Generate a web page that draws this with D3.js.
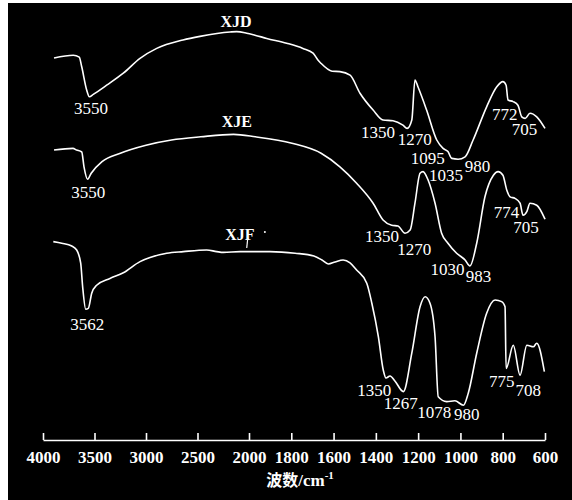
<!DOCTYPE html>
<html><head><meta charset="utf-8">
<script src="https://cdn.jsdelivr.net/npm/d3@7"></script>
<style>html,body{margin:0;padding:0;background:#fff;}svg{display:block;}</style>
</head><body>
<script>
// wavenumber (cm-1), transmittance (arbitrary units)
const xjdWn = [3893,3706,3648,3624,3576,3550,3512,3382,3220,3058,2896,2641,2476,2184,2120,2022,1972,1916,1822,1745,1697,1674,1660,1607,1570,1522,1475,1413,1366,1319,1272,1252,1230,1215,1201,1160,1112,1082,1059,1041,1011,978,940,876,828,799,784,775,751,728,710,694,671,639,600];
const xjdT  = [95.5,96.2,95.7,93.3,87.5,85.8,86.4,88.7,91.7,95.4,97.9,100,100.9,102,102.1,101.7,101.2,100.4,99.2,97.9,96.7,95,94.2,92.2,92.1,91.2,86.7,82.5,80,79.8,78.7,77.9,80,90,88.3,82.5,75,72.9,72.1,70.4,70.2,70.8,75,83.3,88.3,89.6,88.7,85,84.6,83.7,80.8,80.4,81.7,80.8,77.9];

const xjeWn = [3893,3709,3674,3624,3602,3567,3532,3427,3249,3000,2752,2469,2150,1970,1797,1659,1570,1491,1413,1366,1325,1295,1262,1238,1215,1191,1177,1153,1120,1089,1059,1018,978,955,923,884,844,822,799,781,765,742,718,704,686,671,639,600];
const xjeT  = [72.5,72.9,72.5,72,68.3,65.2,66.7,69.6,71.7,73.7,75,75.8,76.4,75.8,74.2,71.7,68.3,64.2,59.2,55,53.7,53.5,51.7,52.5,59.2,66.7,67.1,65,59.2,51.7,49.2,46.7,45,43.5,49.2,60.8,66.2,67.1,66.2,62.5,60.8,60.4,59.2,56.2,57.1,59.2,58.7,55.2];

const xjfWn = [3900,3818,3721,3673,3634,3615,3585,3560,3527,3479,3350,3220,3058,2961,2799,2638,2411,2314,2249,2087,1901,1782,1693,1655,1625,1593,1555,1522,1491,1443,1419,1388,1365,1352,1333,1309,1270,1230,1191,1167,1144,1120,1105,1065,1026,986,963,923,876,836,805,789,784,750,718,686,655,639,603];
const xjfT  = [49.6,49.2,48.5,47.5,44.2,38.3,32.7,32.9,36.7,38.7,40.4,41.8,44.6,45.6,46.7,47.1,47.5,47.1,46.9,47.1,47.1,46.7,46,45,44,44.5,45,44.3,42.5,39.2,34.2,25.8,17.5,15.5,16,14.7,12.1,21.7,33.3,35.8,34.2,25.8,10.8,9.6,9.8,8.7,11.7,21.7,31.7,35,34.6,33.3,17.9,23.7,16.2,23.7,23.3,24.2,17.1];

const seriesNames = ["XJD","XJE","XJF"];
const nameLabelWn = [2126,2118,2089];
const nameLabelT  = [103.2,78.3,50];

const peakText = [
  ["3550","1350","1270","1095","1035","980","772","705"],
  ["3550","1350","1270","1030","983","774","705"],
  ["3562","1350","1267","1078","980","775","708"]
];
const peakWn = [
  [3535,1390,1216,1155,1068,919,790,697],
  [3560,1371,1219,1061,915,782,690],
  [3571,1408,1282,1124,970,805,679]
];
const peakT = [
  [81.5,75.5,73.7,68.9,64.8,67.1,80,76.2],
  [60.5,49.6,46.2,41.2,39.5,55.5,51.8],
  [27.5,11,7.7,5.4,5,13.3,11]
];

const tickValues = [4000,3500,3000,2500,2000,1800,1600,1400,1200,1000,800,600];
const axisTitle = "波数/cm";

const W = 572, H = 500;
const svg = d3.select("body").append("svg").attr("width", W).attr("height", H);
svg.append("rect").attr("x",8).attr("y",3).attr("width",W-8).attr("height",H-3).attr("fill","#000");

const x = d3.scaleLinear().domain([4000,2000,600]).range([43,249,545]);
const y = d3.scaleLinear().domain([0,110]).range([440,0]);

const line = d3.line().x(d=>x(d[0])).y(d=>y(d[1])).curve(d3.curveMonotoneX);
const allSeries = [[xjdWn,xjdT],[xjeWn,xjeT],[xjfWn,xjfT]];
allSeries.forEach(([wn,t])=>{
  const data = wn.map((w,i)=>[w,t[i]]);
  svg.append("path").datum(data).attr("d",line)
    .attr("fill","none").attr("stroke","#fff").attr("stroke-width",1.6).attr("stroke-linejoin","round");
});

const serif = "'Liberation Serif','DejaVu Serif',serif";
seriesNames.forEach((n,i)=>{
  svg.append("text").attr("x",x(nameLabelWn[i])).attr("y",y(nameLabelT[i]))
    .attr("text-anchor","middle").attr("fill","#fff").attr("font-family",serif)
    .attr("font-size",16).attr("font-weight","bold").text(n);
  peakText[i].forEach((s,j)=>{
    svg.append("text").attr("x",x(peakWn[i][j])).attr("y",y(peakT[i][j]))
      .attr("text-anchor","middle").attr("fill","#fff").attr("font-family",serif)
      .attr("font-size",17).text(s);
  });
});
// small marks next to XJF label (as in the scan)
svg.append("line").attr("x1",x(2012)).attr("y1",y(50.5)).attr("x2",x(2022)).attr("y2",y(48))
  .attr("stroke","#fff").attr("stroke-width",1.2);
svg.append("circle").attr("cx",x(1925)).attr("cy",y(52)).attr("r",1).attr("fill","#fff");

const axis = d3.axisBottom(x).tickValues(tickValues).tickSize(-7).tickPadding(11).tickSizeOuter(0).tickFormat(d3.format("d"));
const g = svg.append("g").attr("transform","translate(0,440)").call(axis);
g.select(".domain").attr("stroke","#fff").attr("stroke-width",1.6);
g.selectAll(".tick line").attr("stroke","#fff").attr("stroke-width",1.6);
g.selectAll(".tick text").attr("fill","#fff").attr("font-family",serif).attr("font-size",17).attr("font-weight","bold");

const title = svg.append("text").attr("x",300).attr("y",486).attr("text-anchor","middle").attr("fill","#fff");
title.append("tspan").attr("font-family","'Noto Sans CJK SC',sans-serif").attr("font-weight","bold").attr("font-size",16).text("波数");
title.append("tspan").attr("font-family",serif).attr("font-size",17).attr("font-weight","bold").text("/cm");
title.append("tspan").attr("font-family",serif).attr("font-size",11).attr("dy",-7).attr("font-weight","bold").text("-1");
</script>
</body></html>
